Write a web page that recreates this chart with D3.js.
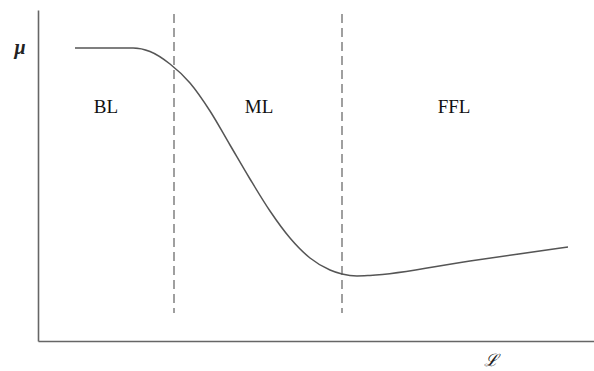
<!DOCTYPE html>
<html><head><meta charset="utf-8">
<script src="https://cdn.jsdelivr.net/npm/d3@7"></script>
<style>html,body{margin:0;padding:0;background:#fff;}svg{display:block;}</style>
</head><body>
<svg id="c" width="594" height="371"></svg>
<script>
// Data (arbitrary units: L along x, mu along y)
const curveL  = [37, 95, 112, 132, 152, 172, 192, 212, 232, 252, 272, 292, 304, 319, 332, 432, 530];
const curveMu = [293, 293, 289.5, 277, 258, 230, 196, 162, 130, 103, 83, 71, 67, 65, 65.5, 80, 94];
const boundaries = [136, 304];
const regionLabels = ["BL", "ML", "FFL"];
const regionLabelL = [68, 221, 416];
const regionLabelMu = [228, 228, 228];
const boundaryTop = 327, boundaryBottom = 28;

const svg = d3.select("#c");
const x = d3.scaleLinear().domain([0, 556]).range([38, 594]);
const y = d3.scaleLinear().domain([0, 331]).range([341, 10]);

// axes (no ticks)
svg.append("g").attr("transform", `translate(${x(0)},0)`)
  .call(d3.axisLeft(y).tickValues([]).tickSizeOuter(0))
  .call(g => g.select(".domain").attr("stroke", "#666").attr("stroke-width", 1.6));
svg.append("g").attr("transform", `translate(0,${y(0)})`)
  .call(d3.axisBottom(x).tickValues([]).tickSizeOuter(0))
  .call(g => g.select(".domain").attr("stroke", "#666").attr("stroke-width", 1.6));

// boundaries
svg.selectAll("line.b").data(boundaries).join("line").attr("class", "b")
  .attr("x1", d => x(d)).attr("x2", d => x(d))
  .attr("y1", y(boundaryTop)).attr("y2", y(boundaryBottom))
  .attr("stroke", "#777").attr("stroke-width", 1.4).attr("stroke-dasharray", "9,5");

// curve
const pts = curveL.map((l, i) => [l, curveMu[i]]);
svg.append("path").datum(pts)
  .attr("d", d3.line().x(d => x(d[0])).y(d => y(d[1])).curve(d3.curveMonotoneX))
  .attr("fill", "none").attr("stroke", "#555").attr("stroke-width", 1.5);

// region labels
svg.selectAll("text.r").data(regionLabels).join("text").attr("class", "r")
  .attr("x", (d, i) => x(regionLabelL[i])).attr("y", (d, i) => y(regionLabelMu[i]))
  .attr("text-anchor", "middle")
  .attr("font-family", "Liberation Serif, DejaVu Serif, serif").attr("font-size", 19)
  .attr("fill", "#111").text(d => d);

// axis symbols
svg.append("text").attr("x", 20).attr("y", 54).attr("text-anchor", "middle")
  .attr("font-family", "Liberation Serif, DejaVu Serif, serif").attr("font-style", "italic")
  .attr("font-weight", "bold").attr("font-size", 20).attr("fill", "#222").text("μ");
svg.append("text").attr("x", 491).attr("y", 366).attr("text-anchor", "middle")
  .attr("font-family", "DejaVu Serif, Liberation Serif, serif").attr("font-style", "italic")
  .attr("font-size", 17).attr("fill", "#222").text("ℒ");
</script>
</body></html>
